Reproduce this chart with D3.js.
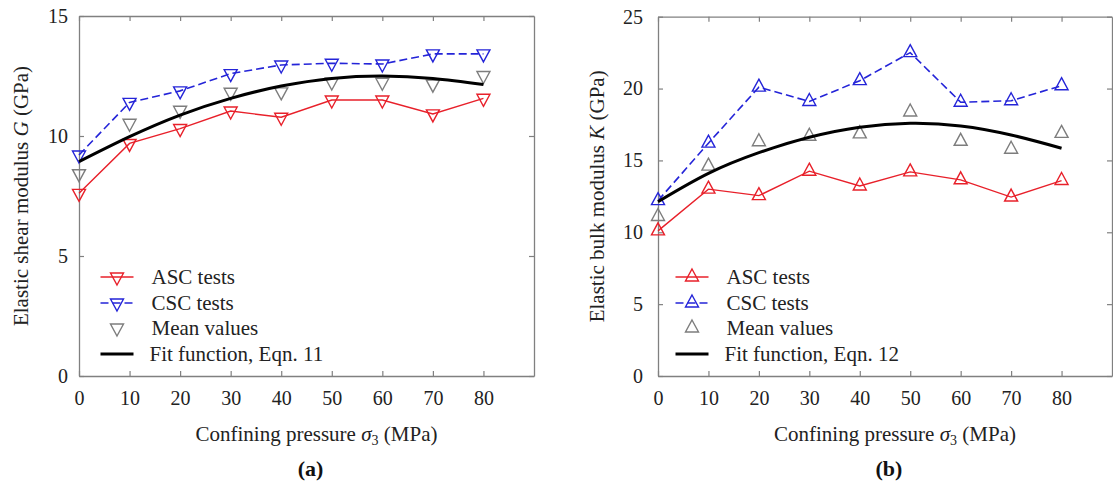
<!DOCTYPE html>
<html>
<head>
<meta charset="utf-8">
<script src="https://cdn.jsdelivr.net/npm/d3@7"></script>
<style>
  html, body { margin: 0; padding: 0; background: #fff; }
  svg { display: block; font-family: "Liberation Serif", "Times New Roman", serif; }
</style>
</head>
<body>
<svg id="chart" width="1113" height="488"></svg>
<script>
// ---- data ----
const pressure = [0, 10, 20, 30, 40, 50, 60, 70, 80];
const xTickValues = [0, 10, 20, 30, 40, 50, 60, 70, 80];
const gTickValues = [0, 5, 10, 15];
const kTickValues = [0, 5, 10, 15, 20, 25];

const gASC  = [7.61, 9.69, 10.31, 11.04, 10.78, 11.50, 11.50, 10.92, 11.57];
const gCSC  = [9.21, 11.40, 11.88, 12.60, 12.96, 13.03, 13.00, 13.42, 13.42];
const gMean = [8.43, 10.53, 11.07, 11.82, 11.84, 12.25, 12.24, 12.16, 12.52];
const gFit  = [8.93, 9.97, 10.87, 11.57, 12.08, 12.40, 12.50, 12.40, 12.15];

const kASC  = [10.10, 13.00, 12.55, 14.25, 13.22, 14.20, 13.65, 12.45, 13.60];
const kCSC  = [12.20, 16.20, 20.10, 19.10, 20.55, 22.50, 19.05, 19.15, 20.20];
const kMean = [11.10, 14.60, 16.30, 16.68, 16.85, 18.37, 16.33, 15.78, 16.88];
const kFit  = [12.13, 14.10, 15.54, 16.61, 17.31, 17.58, 17.40, 16.77, 15.85];

const legendLabelsA = ["ASC tests", "CSC tests", "Mean values", "Fit function, Eqn. 11"];
const legendLabelsB = ["ASC tests", "CSC tests", "Mean values", "Fit function, Eqn. 12"];

// ---- style ----
const RED = "#e8202a", BLUE = "#2424d8", GRAY = "#7d7d7d", FRAME = "#808080";
const svg = d3.select("#chart");

function triPath(up) {
  const w = 13, h = 12;
  if (up) return `M0,${-2*h/3}L${w/2},${h/3}L${-w/2},${h/3}Z`;
  return `M0,${2*h/3}L${w/2},${-h/3}L${-w/2},${-h/3}Z`;
}

function panel(cfg) {
  const x = d3.scaleLinear().domain([0, 90]).range([cfg.left, cfg.right]);
  const y = d3.scaleLinear().domain([0, cfg.ymax]).range([cfg.bottom, cfg.top]);
  const g = svg.append("g");

  // frame + inward ticks
  const styleAxis = sel => {
    sel.select(".domain").attr("stroke", FRAME).attr("stroke-width", 1.3);
    sel.selectAll(".tick line").attr("stroke", FRAME).attr("stroke-width", 1.2);
    sel.selectAll("text").attr("fill", "#222").attr("font-size", 20)
       .attr("font-family", '"Liberation Serif", serif');
  };
  g.append("g").attr("transform", `translate(0,${cfg.bottom})`)
    .call(d3.axisBottom(x).tickValues(xTickValues).tickSizeInner(-5).tickSizeOuter(0).tickPadding(15))
    .call(styleAxis);
  g.append("g").attr("transform", `translate(0,${cfg.top})`)
    .call(d3.axisTop(x).tickValues(xTickValues).tickSizeInner(-5).tickSizeOuter(0).tickFormat(""))
    .call(styleAxis);
  g.append("g").attr("transform", `translate(${cfg.left},0)`)
    .call(d3.axisLeft(y).tickValues(cfg.yticks).tickSizeInner(-5).tickSizeOuter(0).tickPadding(cfg.ypad))
    .call(styleAxis);
  g.append("g").attr("transform", `translate(${cfg.right},0)`)
    .call(d3.axisRight(y).tickValues(cfg.yticks).tickSizeInner(-5).tickSizeOuter(0).tickFormat(""))
    .call(styleAxis);

  const line = d3.line().x((d, i) => x(pressure[i])).y(d => y(d));
  const fitLine = d3.line().x((d, i) => x(pressure[i])).y(d => y(d)).curve(d3.curveNatural);

  // ASC
  g.append("path").datum(cfg.asc).attr("d", line).attr("fill", "none")
    .attr("stroke", RED).attr("stroke-width", 1.4);
  // CSC
  g.append("path").datum(cfg.csc).attr("d", line).attr("fill", "none")
    .attr("stroke", BLUE).attr("stroke-width", 1.6).attr("stroke-dasharray", "8,4");

  const markers = (data, color) => g.append("g").selectAll("path").data(data).join("path")
    .attr("transform", (d, i) => `translate(${x(pressure[i])},${y(d)})`)
    .attr("d", triPath(cfg.up)).attr("fill", "none").attr("stroke", color).attr("stroke-width", 1.4);
  markers(cfg.mean, GRAY);
  markers(cfg.asc, RED);
  markers(cfg.csc, BLUE);

  // fit
  g.append("path").datum(cfg.fit).attr("d", fitLine).attr("fill", "none")
    .attr("stroke", "#000").attr("stroke-width", 3);

  // legend
  const rows = [277, 303, 328, 354];
  const lg = g.append("g").attr("font-size", 21).attr("fill", "#222");
  const lx0 = cfg.legX, lx1 = cfg.legX + 33, lxm = cfg.legX + 16.5, ltx = cfg.legX + 51;
  lg.append("line").attr("x1", lx0).attr("x2", lx1).attr("y1", rows[0]).attr("y2", rows[0])
    .attr("stroke", RED).attr("stroke-width", 1.4);
  lg.append("path").attr("transform", `translate(${lxm},${rows[0]})`).attr("d", triPath(cfg.up))
    .attr("fill", "none").attr("stroke", RED).attr("stroke-width", 1.4);
  lg.append("line").attr("x1", lx0).attr("x2", lx1).attr("y1", rows[1]).attr("y2", rows[1])
    .attr("stroke", BLUE).attr("stroke-width", 1.6).attr("stroke-dasharray", "8,4");
  lg.append("path").attr("transform", `translate(${lxm},${rows[1]})`).attr("d", triPath(cfg.up))
    .attr("fill", "none").attr("stroke", BLUE).attr("stroke-width", 1.4);
  lg.append("path").attr("transform", `translate(${lxm},${rows[2]})`).attr("d", triPath(cfg.up))
    .attr("fill", "none").attr("stroke", GRAY).attr("stroke-width", 1.4);
  lg.append("line").attr("x1", lx0).attr("x2", lx1).attr("y1", rows[3]).attr("y2", rows[3])
    .attr("stroke", "#000").attr("stroke-width", 3);
  cfg.legend.forEach((t, i) => {
    lg.append("text").attr("x", i === 3 ? ltx - 2 : ltx).attr("y", rows[i]).attr("dy", "0.35em").text(t);
  });

  // axis titles
  const cx = (cfg.left + cfg.right) / 2 + 10;
  const xt = g.append("text").attr("x", cx).attr("y", 441).attr("text-anchor", "middle")
    .attr("font-size", 21).attr("fill", "#222");
  xt.append("tspan").text("Confining pressure ");
  xt.append("tspan").attr("font-style", "italic").text("σ");
  xt.append("tspan").attr("font-size", 14).attr("dy", 4).text("3");
  xt.append("tspan").attr("dy", -4).text(" (MPa)");

  const yt = g.append("text")
    .attr("transform", `translate(${cfg.ytitleX},${(cfg.top + cfg.bottom) / 2}) rotate(-90)`)
    .attr("text-anchor", "middle").attr("font-size", 21).attr("fill", "#222");
  yt.append("tspan").text(cfg.ytitle[0]);
  yt.append("tspan").attr("font-style", "italic").text(cfg.ytitle[1]);
  yt.append("tspan").text(cfg.ytitle[2]);

  g.append("text").attr("x", cx - 6).attr("y", 476).attr("text-anchor", "middle")
    .attr("font-size", 22).attr("font-weight", "bold").attr("fill", "#111").text(cfg.label);
}

panel({
  left: 79, right: 534, top: 16, bottom: 376, ymax: 15, yticks: gTickValues, ypad: 11,
  asc: gASC, csc: gCSC, mean: gMean, fit: gFit, up: false,
  legend: legendLabelsA, legX: 100.5, ytitleX: 28,
  ytitle: ["Elastic shear modulus ", "G", " (GPa)"], label: "(a)"
});
panel({
  left: 658, right: 1112, top: 16.7, bottom: 376, ymax: 25, yticks: kTickValues, ypad: 15,
  asc: kASC, csc: kCSC, mean: kMean, fit: kFit, up: true,
  legend: legendLabelsB, legX: 675.5, ytitleX: 604,
  ytitle: ["Elastic bulk modulus ", "K", " (GPa)"], label: "(b)"
});
</script>
</body>
</html>
